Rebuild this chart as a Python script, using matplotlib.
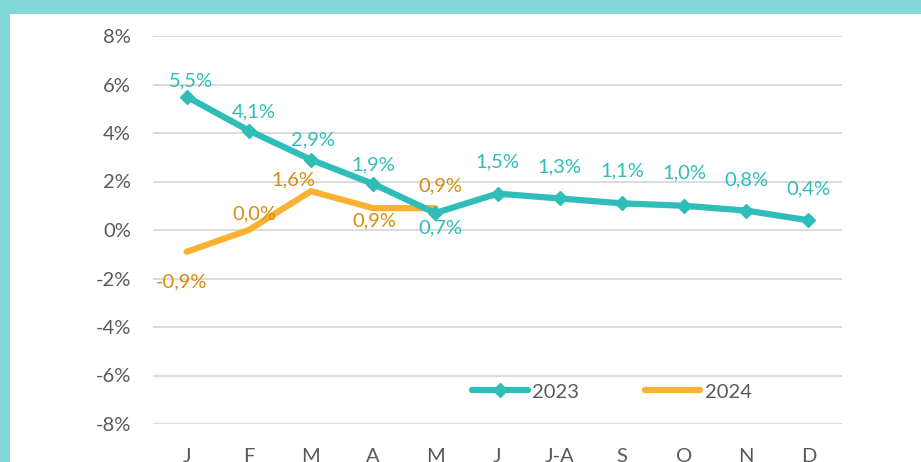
import matplotlib.pyplot as plt
from matplotlib.patches import Rectangle
from matplotlib.lines import Line2D

months = ["J", "F", "M", "A", "M", "J", "J-A", "S", "O", "N", "D"]
vals_2023 = [5.5, 4.1, 2.9, 1.9, 0.7, 1.5, 1.3, 1.1, 1.0, 0.8, 0.4]
vals_2024 = [-0.9, 0.0, 1.6, 0.9, 0.9]

# label offsets from the point, in pixels (dx right, dy up)
off_2023 = [(4, 16), (5, 19), (2, 20), (0, 19), (5, -15), (0, 32),
            (0, 32), (0, 32), (0, 33), (0, 31), (0, 31)]
off_2024 = [(-5, -30), (6, 16), (-18, 11), (1, -13), (5, 22)]

TEAL = "#2FBDB8"
ORANGE = "#F8B133"
ORANGE_TXT = "#D38E0E"
GRAY = "#595959"
FONT = "Lato"
FS = 14.5

fig = plt.figure(figsize=(9.21, 4.62), dpi=100)
fig.patch.set_facecolor("#82D8D8")
fig.patches.append(Rectangle((10 / 921, 0), 1, 1 - 14 / 462, transform=fig.transFigure,
                             facecolor="white", edgecolor="none", zorder=-10))

ax = fig.add_axes([153 / 921, 1 - 424 / 462, (842 - 153) / 921, (424 - 36) / 462])
ax.set_facecolor("none")

x = list(range(len(months)))
ax.plot(x, vals_2023, color=TEAL, lw=4.5, marker="D", ms=7.5, solid_capstyle="round", zorder=3)
ax.plot(x[:len(vals_2024)], vals_2024, color=ORANGE, lw=4.5, solid_capstyle="round", zorder=2)


def fmt(v):
    return f"{v:.1f}%".replace(".", ",")


px = 0.72  # points per pixel at 100 dpi
for xi, v, (dx, dy) in zip(x, vals_2023, off_2023):
    ax.annotate(fmt(v), (xi, v), xytext=(dx * px, dy * px), textcoords="offset points",
                ha="center", va="center", color=TEAL, fontsize=FS, family=FONT)
for xi, v, (dx, dy) in zip(x, vals_2024, off_2024):
    ax.annotate(fmt(v), (xi, v), xytext=(dx * px, dy * px), textcoords="offset points",
                ha="center", va="center", color=ORANGE_TXT, fontsize=FS, family=FONT)

ax.set_xlim(-0.54, 10.54)
ax.set_ylim(-8, 8)
ax.set_yticks(range(-8, 9, 2))
ax.set_yticklabels([f"{t}%" for t in range(-8, 9, 2)])
ax.set_xticks(x)
ax.set_xticklabels(months)
ax.grid(axis="y", color="#D9D9D9", lw=1.3)
ax.set_axisbelow(True)
for s in ax.spines.values():
    s.set_visible(False)
ax.tick_params(length=0, labelsize=FS, labelcolor=GRAY)
ax.tick_params(axis="y", pad=16)
ax.tick_params(axis="x", pad=17)
for lab in ax.get_xticklabels() + ax.get_yticklabels():
    lab.set_family(FONT)

handles = [Line2D([], [], color=TEAL, lw=4.5, marker="D", ms=7.5, solid_capstyle="round"),
           Line2D([], [], color=ORANGE, lw=4.5, solid_capstyle="round")]
leg = ax.legend(handles, ["2023", "2024"], loc="center", bbox_to_anchor=(0.666, 0.0825),
                ncol=2, frameon=False, handlelength=2.75, columnspacing=3.3, handletextpad=0.2,
                prop={"family": FONT, "size": FS})
for t in leg.get_texts():
    t.set_color(GRAY)

fig.savefig("out.png", dpi=100)
